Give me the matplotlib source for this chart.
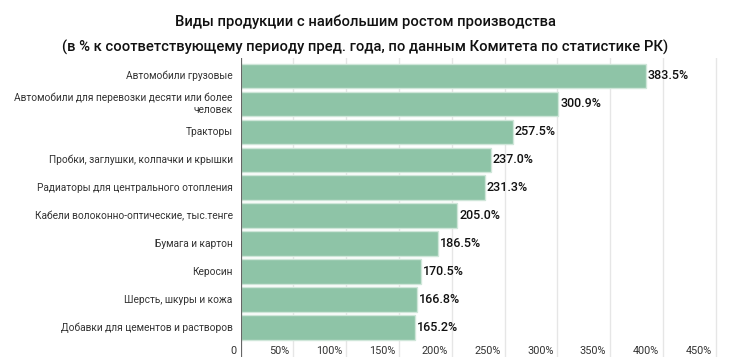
import matplotlib.pyplot as plt
from matplotlib.transforms import offset_copy

plt.rcParams['font.family'] = ['Roboto', 'DejaVu Sans']

# data
categories = [
    "Автомобили грузовые",
    "Автомобили для перевозки десяти или более\nчеловек",
    "Тракторы",
    "Пробки, заглушки, колпачки и крышки",
    "Радиаторы для центрального отопления",
    "Кабели волоконно-оптические, тыс.тенге",
    "Бумага и картон",
    "Керосин",
    "Шерсть, шкуры и кожа",
    "Добавки для цементов и растворов",
]
values = [383.5, 300.9, 257.5, 237.0, 231.3, 205.0, 186.5, 170.5, 166.8, 165.2]
ticks = [0, 50, 100, 150, 200, 250, 300, 350, 400, 450]
tick_labels = ["0", "50%", "100%", "150%", "200%", "250%", "300%", "350%", "400%", "450%"]

W, H = 730, 363
fig = plt.figure(figsize=(W / 100, H / 100), dpi=100)
ax = fig.add_axes([240.7 / W, 1 - 357 / H, 480.4 / W, (357 - 58) / H])

bar_color = "#8ec4a7"
ypos = list(range(len(values)))
ax.barh(ypos, values, height=0.88, color=bar_color, edgecolor="#cfe6d9", linewidth=1, zorder=2)

ax.set_xlim(0, 455)
ax.set_ylim(10.05, -0.64)

for t in ticks[1:]:
    ax.axvline(t, color="#e6e6e6", lw=1, zorder=0)
ax.axvline(0, color="#666666", lw=1.6, zorder=3)

for s in ax.spines.values():
    s.set_visible(False)
ax.set_xticks([])
ax.set_yticks([])

# category labels
lab_tr = offset_copy(ax.transData, fig=fig, x=-8, y=0, units='dots')
for y, c in zip(ypos, categories):
    ax.text(0, y, c, transform=lab_tr, ha='right', va='center', fontsize=7.3,
            color="#333333", linespacing=1.3)

# value labels
val_tr = offset_copy(ax.transData, fig=fig, x=2, y=0, units='dots')
for y, v in zip(ypos, values):
    ax.text(v, y, f"{v:.1f}%", transform=val_tr, ha='left', va='center',
            fontsize=9, fontweight='medium', color="#111111")

# x tick labels drawn inside the plot area, right-aligned before the gridline
tick_tr = offset_copy(ax.transData, fig=fig, x=-4, y=0, units='dots')
for t, l in zip(ticks, tick_labels):
    ax.text(t, 9.82, l, transform=tick_tr, ha='right', va='center', fontsize=7.8, color="#333333")

fig.text(0.5, 1 - 22 / H, "Виды продукции с наибольшим ростом производства",
         ha='center', va='center', fontsize=10.6, fontweight='medium', color="#111111")
fig.text(0.5, 1 - 47 / H, "(в % к соответствующему периоду пред. года, по данным Комитета по статистике РК)",
         ha='center', va='center', fontsize=10.6, fontweight='medium', color="#111111")

fig.savefig("out.png", dpi=100)
